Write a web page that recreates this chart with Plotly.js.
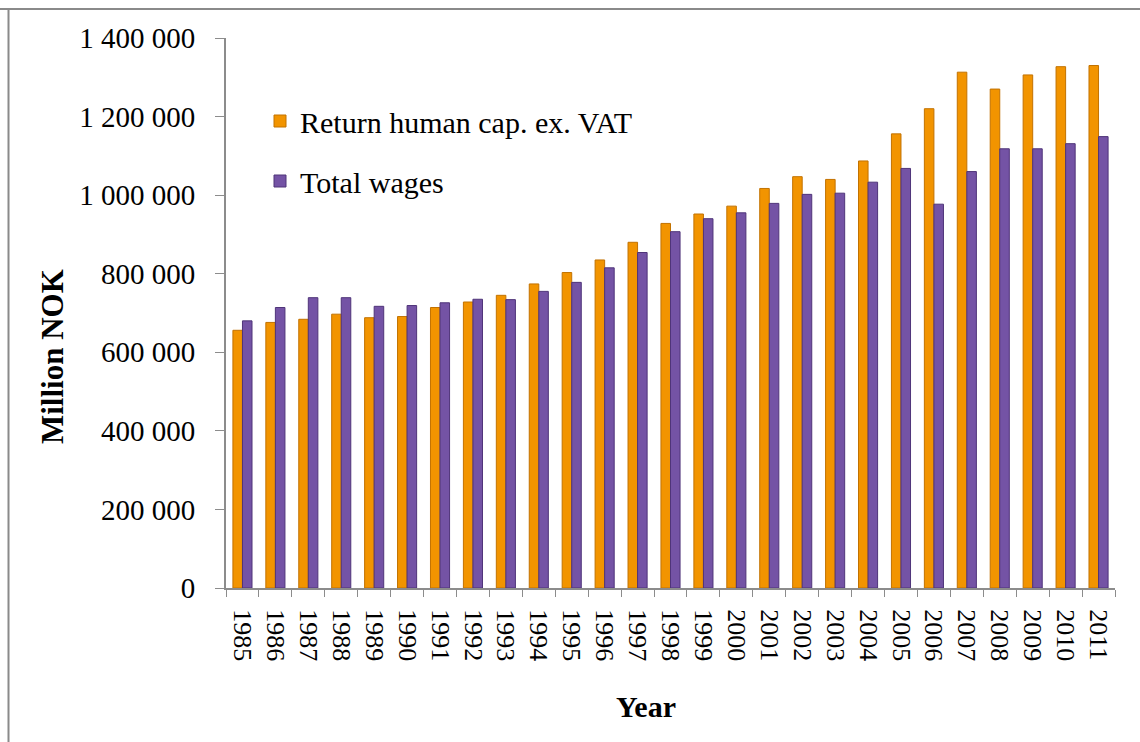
<!DOCTYPE html>
<html>
<head>
<meta charset="utf-8">
<script src="https://cdn.plot.ly/plotly-3.0.1.min.js"></script>
<style>
html,body{margin:0;padding:0;background:#fff;}
#chart{width:1140px;height:742px;}
</style>
</head>
<body>
<div id="chart"></div>
<script>
const years = ["1985","1986","1987","1988","1989","1990","1991","1992","1993","1994","1995","1996","1997","1998","1999","2000","2001","2002","2003","2004","2005","2006","2007","2008","2009","2010","2011"];
const returnHumanCap = [656000,676000,684000,697000,688000,691000,714000,728000,745000,774000,803000,835000,880000,928000,952000,972000,1017000,1047000,1040000,1087000,1156000,1220000,1313000,1270000,1306000,1327000,1330000];
const totalWages = [680000,714000,739000,739000,717000,719000,726000,735000,734000,755000,778000,815000,854000,907000,940000,955000,979000,1002000,1005000,1033000,1068000,977000,1060000,1118000,1118000,1131000,1149000];
const seriesNames = ["Return human cap. ex. VAT","Total wages"];
const yTicks = [0,200000,400000,600000,800000,1000000,1200000,1400000];
const xTitle = "Year";
const yTitle = "Million NOK";

const serif = "'Liberation Serif','Times New Roman',serif";

const traces = [
  {type:'bar', name:seriesNames[0], x:years, y:returnHumanCap, legendgroup:'a',
   marker:{color:'#F29400', line:{color:'#C27200', width:1}}},
  {type:'bar', name:seriesNames[1], x:years, y:totalWages, legendgroup:'b',
   marker:{color:'#7453A5', line:{color:'#4F3479', width:1}}}
];

const L=226, R=25, T=38, B=154, W=1140, H=742;
const pw = W-L-R, ph = H-T-B;
const px2x = p => (p-L)/pw;
const py2y = p => (H-B-p)/ph;

const layout = {
  width:W, height:H,
  margin:{l:L, r:R, t:T, b:B, pad:0},
  paper_bgcolor:'#fff', plot_bgcolor:'#fff',
  separators:'. ',
  barmode:'group', bargap:0.42, bargroupgap:0,
  font:{family:serif, color:'#000', size:25},
  showlegend:true,
  legend:{x:px2x(260), y:py2y(95), xanchor:'left', yanchor:'top',
    traceorder:'grouped', tracegroupgap:18, bgcolor:'rgba(0,0,0,0)',
    font:{family:serif, size:30, color:'#000'}},
  xaxis:{type:'category', tickangle:90, tickson:'boundaries', ticks:'outside', ticklen:7,
    ticklabelstandoff:14,
    tickcolor:'#8c8c8c', showline:true, linecolor:'#8c8c8c', linewidth:2, showgrid:false,
    tickfont:{family:serif, size:26, color:'#000'}},
  yaxis:{range:[0,1400000], tickvals:yTicks, tickformat:',d', ticks:'outside', ticklen:9,
    ticklabelstandoff:14,
    tickcolor:'#8c8c8c', showline:true, linecolor:'#8c8c8c', linewidth:2, showgrid:false, zeroline:false,
    tickfont:{family:serif, size:29, color:'#000'}},
  annotations:[
    {text:'<b>'+yTitle+'</b>', xref:'paper', yref:'paper', x:px2x(52), y:py2y(357),
     xanchor:'center', yanchor:'middle', textangle:-90, showarrow:false,
     font:{family:serif, size:31, color:'#000'}},
    {text:'<b>'+xTitle+'</b>', xref:'paper', yref:'paper', x:px2x(646), y:py2y(706),
     xanchor:'center', yanchor:'middle', showarrow:false,
     font:{family:serif, size:30, color:'#000'}}
  ],
  shapes:[
    {type:'line', xref:'paper', yref:'paper', x0:px2x(0), x1:px2x(1140), y0:py2y(9), y1:py2y(9), line:{color:'#8a8a8a', width:2}},
    {type:'line', xref:'paper', yref:'paper', x0:px2x(8.5), x1:px2x(8.5), y0:py2y(9), y1:py2y(742), line:{color:'#8a8a8a', width:2}}
  ]
};

Plotly.newPlot('chart', traces, layout, {displayModeBar:false, staticPlot:true});
</script>
</body>
</html>
